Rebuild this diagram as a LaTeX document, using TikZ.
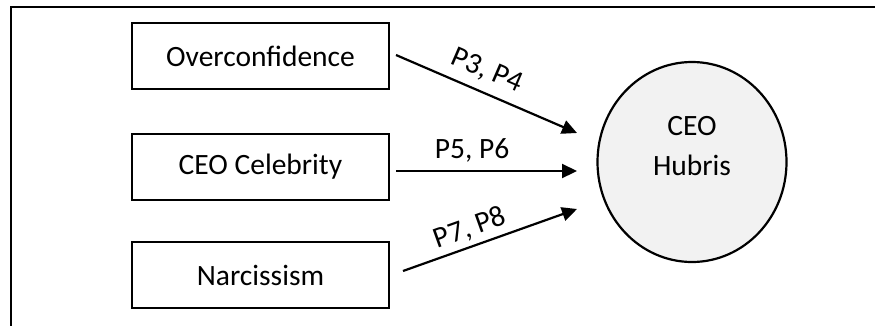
\documentclass[tikz,border=0pt]{standalone}
\usepackage{fontspec}
\setmainfont{Carlito}
\usetikzlibrary{arrows.meta,shapes.geometric}
\definecolor{hubfill}{HTML}{F2F2F2}
\begin{document}
\begin{tikzpicture}[x=1pt,y=-1pt,
  every node/.style={font=\fontsize{29.5}{40}\selectfont},
  factor/.style={draw,line width=2.2pt,minimum width=257pt,minimum height=66pt,inner sep=0pt},
  hub/.style={draw,ellipse,line width=2.2pt,fill=hubfill,minimum width=189pt,minimum height=200pt,inner sep=0pt},
  arr/.style={line width=2.2pt,-{Triangle[length=15pt,width=14pt]}},
  plabel/.style={inner sep=0pt}]
\useasboundingbox (0,0) rectangle (875,325);
\draw[line width=2.2pt] (11,326) -- (11,7) -- (876,7);
\node[factor] (ov) at (260.5,56) {Overconfidence};
\node[factor] (cel) at (260.5,167) {CEO Celebrity};
\node[factor] (nar) at (260.5,275) {Narcissism};
\node[hub] (hub) at (692,162) {};
\node[align=center,inner sep=0pt] (hubtext) at (692,146) {CEO\\Hubris};
\coordinate (t1) at (577,133);
\coordinate (t2) at (577,171);
\coordinate (t3) at (577,209);
\coordinate (s1) at (396,55);
\coordinate (s2) at (396,171);
\coordinate (s3) at (403,271);
\draw[arr] (s1) -- (t1);
\draw[arr] (s2) -- (t2);
\draw[arr] (s3) -- (t3);
\node[plabel,rotate=-23.4] (l1) at (487,71) {P3, P4};
\node[plabel] (l2) at (472,150) {P5, P6};
\node[plabel,rotate=19.7] (l3) at (470,228) {P7, P8};
\end{tikzpicture}
\end{document}
